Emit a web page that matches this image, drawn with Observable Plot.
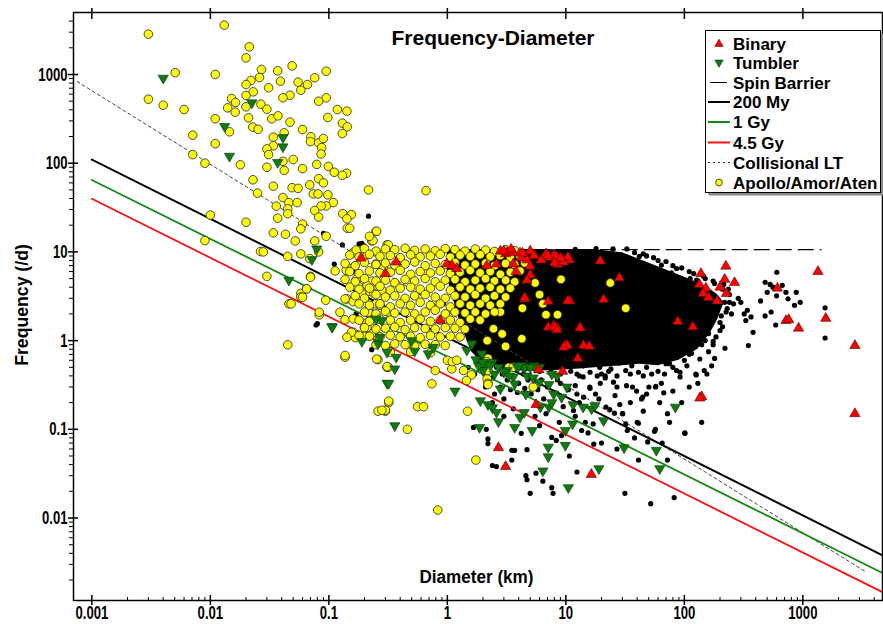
<!DOCTYPE html>
<html><head><meta charset="utf-8">
<script src="https://cdn.jsdelivr.net/npm/d3@7"></script>
<script src="https://cdn.jsdelivr.net/npm/@observablehq/plot@0.6"></script>
<style>html,body{margin:0;padding:0;background:#fff;}#chart{width:883px;height:624px;}</style>
</head><body><div id="chart"></div>
<script>
// ---------- scales / ticks ----------
const xDomain = [0.0007, 4700];
const yDomain = [0.001175, 5000];
const xMajor = [0.001, 0.01, 0.1, 1, 10, 100, 1000];
const xTickLabels = ["0.001", "0.01", "0.1", "1", "10", "100", "1000"];
const yMajor = [0.01, 0.1, 1, 10, 100, 1000];
const yTickLabels = ["0.01", "0.1", "1", "10", "100", "1000"];
const xMinor = [0.002,0.003,0.004,0.005,0.006,0.007,0.008,0.009,0.02,0.03,0.04,0.05,0.06,0.07,0.08,0.09,0.2,0.3,0.4,0.5,0.6,0.7,0.8,0.9,2,3,4,5,6,7,8,9,20,30,40,50,60,70,80,90,200,300,400,500,600,700,800,900,2000,3000,4000];
const yMinor = [0.002,0.003,0.004,0.005,0.006,0.007,0.008,0.009,0.02,0.03,0.04,0.05,0.06,0.07,0.08,0.09,0.2,0.3,0.4,0.5,0.6,0.7,0.8,0.9,2,3,4,5,6,7,8,9,20,30,40,50,60,70,80,90,200,300,400,500,600,700,800,900,2000,3000,4000];

// ---------- model lines ----------
const lineD = [0.001, 4700];
const age200My = [110, 0.0038];
const age1Gy = [64.7, 0.0024];
const age45Gy = [39.7, 0.00146];
const collD = [0.00075, 3350];
const collF = [834, 0.0025];
const spinD = [1.5, 1420];
const spinF = [10.6, 10.6];

// ---------- dense core of the main-belt population (outline) ----------
const coreD =   [1.0, 1.3, 1.6, 2.0, 3.0, 5.0, 8.0, 13, 20, 30, 42, 60, 90, 130, 165, 190, 215];
const coreTop = [10.6,10.6,10.6,10.6,10.6,10.6,10.6,10.6,10.4,9.8,8.2,6.8,5.5,4.5,3.8,3.3,2.7];
const coreBot = [5.0, 1.5, 0.75,0.55,0.47,0.45,0.46,0.48,0.5,0.52,0.54,0.52,0.6,0.8,1.2,1.7,2.6];

// ---------- scattered asteroids (black) ----------
const asteroidPts = [
[0.216,25.3],[0.13,12],[0.18,12.3],[0.19,12.5],[0.2,11.6],[0.09,16.2],[0.111,7.3],[0.16,5.95],[0.17,2.0],[0.08,1.55],[0.23,0.79],[0.078,1.5],[0.17,4.8],
[0.93,2.6],[1.13,2.38],[1.28,3.1],[1.02,1.69],[1.46,1.91],[1.77,1.69],[1.66,1.41],[2.15,1.09],[1.9,0.84],[1.56,1.09],[2.6,0.71],[3.2,1.0],[2.8,1.33],[3.4,1.69],[3.0,2.38],
[1.8,0.55],[2.0,0.48],[2.3,0.45],[2.6,0.5],[2.9,0.42],[3.2,0.36],[3.6,0.4],[4.0,0.33],[4.4,0.42],[4.8,0.36],[2.4,0.38],[2.8,0.3],[3.4,0.28],[3.9,0.26],[4.5,0.29],[5.1,0.25],[5.8,0.28],[6.5,0.22],[7.0,0.3],[8.0,0.26],[9.0,0.33],[10.5,0.28],[12,0.31],[8.5,0.36],[6.2,0.36],[3.0,0.22],[2.5,0.25],[2.1,0.3],[1.7,0.42],[1.5,0.5],
[5,0.55],[6.5,0.5],[8,0.56],[11,0.55],[14,0.52],[18,0.55],[24,0.48],[28,0.56],[36,0.52],[48,0.5],[70,0.55],[100,0.6],[115,0.72],[150,1.0],
[2.5,0.58],[3.5,0.52],[4.5,0.48],[6,0.45],[7.5,0.48],[9,0.42],[11,0.45],[13,0.4],[16,0.44],[20,0.42],[23,0.45],[27,0.4],[35,0.42],[45,0.4],[60,0.45],[80,0.5],[105,0.52],[135,0.62],[160,0.75],[175,0.9],[185,1.1],[200,1.3],[205,1.9],[225,2.1],[240,2.7],[235,3.8],[215,4.3],[175,4.7],[145,5.3],[110,6.0],[80,7.0],[60,8.0],[48,9.0],[38,9.8],
[6.8,0.15],[9.5,0.18],[13,0.2],[19,0.22],[26,0.24],[35,0.2],[48,0.25],[62,0.2],[80,0.27],[110,0.3],[130,0.33],[95,0.2],[75,0.12],[45,0.16],[12,0.14],[8.8,0.12],[6,0.11],[4.2,0.09],[3.0,0.14],[2.4,0.2],[3.6,0.17],[5.5,0.14],[20,0.07],[27,0.06],[38,0.08],[65,0.07],[140,0.12],
[1.66,0.105],[2.13,0.1],[2.2,0.078],[2.2,0.069],[2.4,0.039],[2.6,0.038],[3.5,0.058],[3.5,0.045],[3.7,0.058],[4.7,0.059],[4.6,0.03],[4.7,0.027],[5.6,0.032],[5.0,0.019],[6.4,0.026],[7.6,0.022],[7.8,0.019],[8.3,0.075],[7.6,0.081],[9.2,0.085],[10.7,0.05],[12.4,0.033],[13.6,0.097],[15.4,0.091],[17.2,0.068],[23.5,0.167],[25.7,0.152],[30.2,0.15],[32,0.115],[33,0.097],[41,0.117],[41,0.045],[49,0.072],[56,0.095],[67,0.258],[101,0.091],[31.5,0.019],[52,0.0145],[82,0.017],[72,0.045],[44.5,0.23],[50.2,0.3],[57.5,0.305],[36.5,0.3],[25.2,0.34],[21.5,0.4],[18.4,0.4],[15.9,0.3],[14.1,0.23],[12.4,0.25],[17.8,0.25],[28.5,0.19],[11.6,0.163],[14.6,0.12],[17,0.115],[19.3,0.5],[32,0.46],[41,0.44],[53,0.42],[68,0.42],[92,0.44],[125,0.42],[147,0.46],
[603,5.9],[481,4.55],[530,4.3],[560,4.0],[670,4.2],[720,3.5],[880,3.5],[950,2.7],[850,2.5],[750,2.96],[600,3.2],[500,3.5],[440,2.8],[480,1.9],[540,2.1],[590,1.5],[1540,2.34],[1540,1.07],[347,0.88],[380,1.24],[320,2.0],[330,1.68],[340,2.2],[365,1.85],[285,3.0],[300,2.7],[210,1.43],[220,0.82],[175,0.98],[180,0.63],[170,0.52],[155,0.42],[126,0.41],[92,0.39],[86,0.46],[64,0.33],[57,0.3],[43.5,0.22],[39.5,0.27],[32.5,0.31],[27,0.3],[21.5,0.38],[19.5,0.33],[16,0.29],[14,0.39],[12.4,0.42],[17.8,0.185],[21.8,0.178],[30,0.15],[40,0.12],[57,0.1],[72,0.15],[101,0.09],
[230,2.3],[250,2.0],[240,3.3],[200,1.6],[190,2.2],[260,2.6],[160,1.2],[140,0.9],[110,0.7],[75,0.55],[219,2.7],
[32.7,10.8],[41.7,8.9],[64,7.1],[78,5.8],[86,6.5],[112,5.0],[127,4.8],[45,9.5],[55,8.6],[70,7.8],[95,6.6],[120,5.7],[150,5.0],[180,4.4],[210,3.8],[25,10.8],[18,10.9],[12,10.7]
];

// ---------- Apollo / Amor / Aten (yellow) ----------
const apolloPts = [
[0.003,2850],[0.0131,3600],[0.0213,2050],[0.020,1540],[0.00505,1050],[0.011,1000],[0.027,1140],[0.037,1100],[0.049,1250],[0.095,1090],[0.026,925],[0.022,856],[0.020,771],[0.039,840],[0.055,819],[0.066,771],[0.076,918],[0.031,708],[0.058,665],[0.047,584],[0.041,546],[0.095,546],[0.082,500],[0.023,638],[0.020,580],[0.0151,536],[0.0163,484],[0.020,432],[0.0267,463],[0.030,406],[0.014,421],[0.0162,376],[0.003,527],[0.0040,451],[0.0060,403],[0.011,317],[0.021,325],[0.0228,255],[0.0253,241],[0.033,317],[0.0372,342],[0.047,290],[0.060,240],[0.098,328],[0.118,403],[0.142,386],[0.130,283],[0.143,257],[0.13,216],[0.0071,207],[0.011,166],[0.0071,125],[0.009,100],[0.0145,226],[0.0179,96],[0.0229,65],[0.025,46],[0.034,197],[0.034,157],[0.030,145],[0.031,125],[0.042,220],[0.041,105],[0.042,83],[0.030,90],[0.050,110],[0.060,87],[0.0705,199],[0.07,175],[0.082,170],[0.087,150],[0.086,127],[0.09,190],[0.079,97],[0.099,92],[0.111,79],[0.141,77],[0.13,73],[0.069,57],[0.082,67],[0.09,60],[0.034,55],[0.049,53],[0.055,52],[0.074,45],[0.081,45],[0.098,44],[0.041,41],[0.216,50],
[0.046,36],[0.054,36],[0.036,32.8],[0.045,30.6],[0.045,27],[0.109,36],[0.095,33],[0.086,33],[0.076,29.3],[0.082,24.7],[0.131,27],[0.155,26.3],[0.142,23.6],[0.143,18.5],[0.15,18.5],[0.037,24],[0.020,21.6],[0.01,26],[0.009,13.4],[0.0265,10.1],[0.028,10],[0.034,16.4],[0.043,15.8],[0.052,13.3],[0.060,20.6],[0.058,18.2],[0.076,13.3],[0.095,15],[0.058,9.5],[0.045,8.9],[0.082,10],[0.069,8.4],[0.16,9.8],[0.25,17],[0.23,13.3],[0.21,9.3],[0.25,7.3],[0.29,6.6],[0.31,12],[0.25,10],[0.145,6.6],[0.14,6.2],[0.113,6.1],[0.070,5.3],[0.030,5.3],[0.065,3.83],[0.058,3.4],[0.058,3.1],[0.094,2.85],[0.142,2.95],[0.16,2.75],[0.046,2.6],[0.048,2.6],[0.22,2.4],[0.25,2.6],[0.27,2.5],[0.24,1.97],[0.083,1.95],[0.137,1.72],[0.16,1.24],[0.167,1.08],[0.2,1.42],[0.21,1.6],[0.2,1.12],[0.24,1.16],[0.045,0.897],[0.137,0.65],[0.26,0.61],[0.31,0.5],[0.32,0.2],[0.26,0.16],[0.3,0.16],
[0.66,49],[0.253,17.1],[0.236,13.4],[0.318,12],[0.22,15],
[0.17,4.9],[0.2,4.7],[0.23,4.7],[0.21,4.2],[0.26,3.9],[0.22,3.6],[0.19,3.4],[0.24,3.4],[0.28,3.7],
[0.07,5.18],[0.065,3.83],[0.083,2.09],[0.06,3.08],[0.137,2.96],[0.124,2.09],[0.16,1.76],[0.155,1.24],[0.142,1.09],[0.137,0.68],[0.253,0.62],[0.318,0.5],[0.18,1.14],[0.23,1.19],[0.21,1.41],[0.245,1.68],[0.215,2.09],[0.318,2.09],
[0.31,0.51],[0.74,0.326],[0.32,0.208],[0.3,0.164],[0.28,0.164],[0.56,0.18],[0.63,0.18],[0.46,0.1],[1.48,0.16],[1.74,0.045],[0.83,0.0123],[0.79,0.46],[1.09,0.48],[1.37,0.46],[1.6,0.41],[1.45,0.355],[2.17,0.37],[2.2,0.33],[2.17,0.47],[3.3,0.5],[5.3,0.3],[1.0,0.6],[1.1,0.58],[1.2,0.6],
[23.7,4.47],[32,2.32],[9.1,4.9],[5.5,4.47],[6.0,3.3],[6.4,2.6],[4.3,2.32],[6.8,1.96],[8.5,1.96],[2.8,2.1],[4.25,1.05],[3.6,0.5],[2.45,1.36],[2.9,1.19],[3.1,0.86],[2.17,1.0],[2.2,0.63],[2.15,0.58],[2.2,0.46],[2.2,0.32],
[0.17,10.5],[0.2,10.9],[0.25,10.2],[0.3,10.8],[0.36,10.6],[0.44,11.0],[0.53,10.4],[0.65,10.8],[0.79,10.3],[0.96,10.9],[1.16,10.6],[1.41,10.2],[1.72,10.8],[2.1,10.5],[2.5,10.1],[3.1,10.6],[3.7,10.3],
[0.15,9.2],[0.18,8.8],[0.22,9.4],[0.27,8.9],[0.33,9.1],[0.4,8.6],[0.49,9.3],[0.59,8.8],[0.72,9.0],[0.87,9.4],[1.06,8.7],[1.28,9.2],[1.56,8.9],[1.89,9.3],[2.3,8.8],[2.8,9.1],[3.4,8.6],[4.1,9.0],
[0.137,7.4],[0.167,7.0],[0.2,7.6],[0.25,7.2],[0.3,7.5],[0.36,7.1],[0.44,7.3],[0.53,7.7],[0.65,7.0],[0.79,7.4],[0.96,7.2],[1.16,7.6],[1.41,7.1],[1.72,7.3],[2.1,7.5],[2.5,7.0],[3.1,7.4],[3.7,7.2],[4.5,7.5],
[0.15,6.0],[0.18,5.7],[0.22,6.1],[0.27,5.8],[0.33,5.9],[0.4,6.2],[0.49,5.6],[0.59,6.0],[0.72,5.8],[0.87,6.1],[1.06,5.7],[1.28,5.9],[1.56,6.2],[1.89,5.8],[2.3,6.0],[2.8,5.6],[3.4,5.9],[4.1,6.1],
[0.137,4.9],[0.167,4.6],[0.2,5.0],[0.25,4.7],[0.3,4.8],[0.36,4.5],[0.44,4.9],[0.53,4.7],[0.65,5.0],[0.79,4.6],[0.96,4.8],[1.16,4.9],[1.41,4.6],[1.72,4.8],[2.1,5.0],[2.5,4.7],[3.1,4.8],[3.7,4.6],
[0.15,4.0],[0.18,3.8],[0.22,3.9],[0.27,4.1],[0.33,3.7],[0.4,3.9],[0.49,4.0],[0.59,3.8],[0.72,3.9],[0.87,4.1],[1.06,3.7],[1.28,4.0],[1.56,3.8],[1.89,3.9],[2.3,4.0],[2.8,3.8],[3.4,3.9],
[0.167,3.2],[0.2,3.0],[0.25,3.3],[0.3,3.1],[0.36,3.2],[0.44,3.0],[0.53,3.2],[0.65,3.3],[0.79,3.1],[0.96,3.0],[1.16,3.2],[1.41,3.1],[1.72,3.3],[2.1,3.0],[2.5,3.2],[3.1,3.1],
[0.18,2.6],[0.22,2.5],[0.27,2.6],[0.33,2.4],[0.4,2.6],[0.49,2.5],[0.59,2.7],[0.72,2.5],[0.87,2.6],[1.06,2.4],[1.28,2.6],[1.56,2.5],[1.89,2.6],[2.3,2.5],[2.8,2.6],
[0.2,2.1],[0.25,2.0],[0.3,2.15],[0.36,2.05],[0.44,2.1],[0.53,2.0],[0.65,2.1],[0.79,2.2],[0.96,2.0],[1.16,2.1],[1.41,2.05],[1.72,2.1],[2.1,2.0],[2.5,2.1],
[0.18,1.7],[0.22,1.65],[0.27,1.75],[0.33,1.7],[0.4,1.6],[0.49,1.7],[0.59,1.75],[0.72,1.65],[0.87,1.7],[1.06,1.7],[1.28,1.6],[1.56,1.75],[1.89,1.7],
[0.2,1.4],[0.25,1.35],[0.3,1.38],[0.36,1.42],[0.44,1.33],[0.53,1.4],[0.65,1.37],[0.79,1.35],[0.96,1.4],[1.16,1.38],[1.41,1.35],
[0.22,1.12],[0.27,1.1],[0.33,1.15],[0.4,1.1],[0.49,1.12],[0.59,1.08],[0.72,1.14],[0.87,1.1],[1.06,1.12],[1.28,1.1],
[0.25,0.9],[0.3,0.88],[0.36,0.92],[0.44,0.9],[0.53,0.87],[0.65,0.91],[0.79,0.9],[0.96,0.88],
[0.33,0.74],[0.49,0.75],[0.72,0.73]
];

// ---------- Tumblers (green, pointing down) ----------
const tumblerPts = [
[0.004,910],[0.0224,480],[0.0132,260],[0.0145,120],[0.041,153],[0.041,195],[0.037,102],
[0.079,10.8],[0.072,8.2],[0.046,4.8],[0.106,1.44],[0.19,0.98],[0.26,0.92],[0.31,0.74],[0.31,0.33],[0.28,1.68],
[0.107,1.42],[0.37,0.65],[0.53,0.76],[0.69,0.71],[0.76,0.84],[0.5,1.0],[0.25,1.75],[0.27,1.09],[1.61,0.92],[1.95,0.71],[1.46,0.78],[2.1,0.55],[2.5,0.42],[3.2,0.46],[3.9,0.5],[4.3,0.52],[5.4,0.52],[4.7,0.4],[3.6,0.39],[8.4,0.4],[6.0,0.5],[1.74,0.61],[2.4,0.57],[2.7,0.5],[2.0,0.46],
[0.36,0.48],[0.32,0.33],[0.36,0.11],[1.16,0.27],[1.83,0.52],[1.9,0.21],[2.2,0.19],[2.4,0.175],[2.6,0.155],[2.7,0.122],[1.87,0.105],[3.7,0.105],[4.1,0.137],[4.45,0.155],[5.2,0.097],[7.1,0.063],[7.1,0.049],[6.4,0.034],[9.9,0.097],[9.9,0.066],[10.5,0.022],[11.4,0.115],[20.8,0.125],[31,0.062],[58,0.058],[62,0.036],[84,0.178],[19,0.036],[2.8,0.285],[3.7,0.325],[4.6,0.25],[6.1,0.178],[7.2,0.178],[7.6,0.2],[9.2,0.23],[11.5,0.19],[14,0.178],[16.5,0.17],[17.6,0.185],[5.5,0.5],[5.3,0.38],[4.5,0.5],[6.0,0.34],[7.2,0.32],[7.6,0.42],[7.9,0.25],[10.2,0.3],[2.0,0.57],[2.3,0.53],[3.0,0.44],[3.3,0.4],[4.0,0.52],[5.0,0.5]
];

// ---------- Binaries (red, pointing up) ----------
const binaryPts = [
[0.187,8.5],[0.3,5.7],
[0.37,7.7],[0.99,7.3],[1.1,7.0],[1.2,6.5],[2.8,10.2],[3.1,9.5],[3.2,9.9],[3.6,9.9],[4.1,9.7],[5.0,10.2],[5.4,9.1],[4.7,8.1],[4.2,8.6],[5.0,6.9],[6.2,8.1],[6.8,9.5],[7.2,8.7],[7.9,9.1],[8.7,8.4],[10.7,8.1],[8.5,7.2],[2.15,7.0],[2.6,7.3],[3.6,7.3],[3.8,6.0],[5.0,5.5],[4.7,4.8],[4.5,2.95],[7.1,1.41],[8.4,1.41],[7.9,1.46],[13.2,1.41],[10.8,2.8],[0.87,1.69],
[224,6.9],[138,5.7],[219,4.9],[265,4.5],[134,4.3],[152,3.9],[144,3.4],[160,3.05],[190,2.8],[200,4.0],[226,3.4],[1340,6.0],[610,3.9],[720,1.68],[760,1.72],[920,1.38],[1560,1.78],[2750,0.88],[2750,0.15],[140,0.233],[88,1.64],[118,1.43],[19.5,7.9],[28.3,5.1],[20.8,2.9],[10.4,2.8],[4.5,3.05],[7.1,2.75],[13.2,1.39],[14.1,0.88],[15.8,0.86],[12.6,0.63],[8.1,1.41],[8.4,1.32],[9.9,0.88],[10.3,0.88],[9.6,0.84],[3.0,10.2],[3.45,10.7],[4.3,9.7],[7,9.1],[8.3,8.9],[10.4,8.7],[9.6,7.7],[9.1,8.5],[8.0,7.5],
[2.7,0.062],[3.1,0.038],[5.9,0.47],[9.4,0.45],[5.6,0.19],[16.4,0.031],[135,0.225]
];

// ---------- legend ----------
const legendLabels = ["Binary", "Tumbler", "Spin Barrier", "200 My", "1 Gy", "4.5 Gy", "Collisional LT", "Apollo/Amor/Aten"];

// ---------- build ----------
const rows = pts => pts.map(([d, f]) => ({d, f}));
const pairRows = (ds, fs) => ds.map((d, i) => ({d, f: fs[i]}));
const coreRows = coreD.map((d, i) => ({d, lo: coreBot[i], hi: coreTop[i]}));
const FONT = "'Liberation Sans', Arial, Helvetica, sans-serif";
const GREEN_FILL = "#0f7a0f", GREEN_LINE = "#118a11";
const S3 = Math.sqrt(3);
const triangleDown = {draw(ctx, size) {
  const y = -Math.sqrt(size / (S3 * 3));
  ctx.moveTo(0, -y * 2); ctx.lineTo(-S3 * y, y); ctx.lineTo(S3 * y, y); ctx.closePath();
}};
const blank = () => "";

const chart = Plot.plot({
  width: 883, height: 624,
  marginLeft: 73, marginRight: 1, marginTop: 12, marginBottom: 24,
  style: {fontFamily: FONT, fontSize: "13px", fontWeight: "bold", color: "black", background: "white"},
  x: {type: "log", domain: xDomain, axis: null},
  y: {type: "log", domain: yDomain, axis: null},
  marks: [
    Plot.areaY(coreRows, {x: "d", y1: "lo", y2: "hi", fill: "black"}),
    Plot.dot(rows(asteroidPts), {x: "d", y: "f", r: 2.6, fill: "black"}),
    Plot.line(pairRows(spinD, spinF), {x: "d", y: "f", stroke: "black", strokeWidth: 1.2, strokeDasharray: "15,7"}),
    Plot.line(pairRows(collD, collF), {x: "d", y: "f", stroke: "#444", strokeWidth: 1, strokeDasharray: "3,3"}),
    Plot.line(pairRows(lineD, age200My), {x: "d", y: "f", stroke: "black", strokeWidth: 2}),
    Plot.line(pairRows(lineD, age1Gy), {x: "d", y: "f", stroke: GREEN_LINE, strokeWidth: 1.8}),
    Plot.line(pairRows(lineD, age45Gy), {x: "d", y: "f", stroke: "#ff1010", strokeWidth: 1.8}),
    Plot.dot(rows(apolloPts), {x: "d", y: "f", r: 4.3, fill: "#ffff00", stroke: "#222", strokeWidth: 0.8}),
    Plot.dot(rows(tumblerPts), {x: "d", y: "f", r: 3.8, symbol: triangleDown, fill: GREEN_FILL, stroke: "#063806", strokeWidth: 0.6}),
    Plot.dot(rows(binaryPts), {x: "d", y: "f", r: 3.8, symbol: "triangle", fill: "#ff0000", stroke: "#5a0000", strokeWidth: 0.6}),
    Plot.frame({stroke: "black", strokeWidth: 1.5}),
    Plot.axisX(xMajor, {anchor: "bottom", tickSize: 10, dy: -5, strokeWidth: 1.5, tickFormat: blank, label: null}),
    Plot.axisX(xMinor, {anchor: "bottom", tickSize: 3, dy: -3, tickFormat: blank, label: null}),
    Plot.axisX(xMajor, {anchor: "bottom", tickSize: 0, tickPadding: 5, tickFormat: d => xTickLabels[xMajor.indexOf(d)], label: null}),
    Plot.axisX(xMajor, {anchor: "top", tickSize: 11, dy: 6, strokeWidth: 1.5, tickFormat: blank, label: null}),
    Plot.axisY(yMajor, {anchor: "left", tickSize: 10, dx: 5, strokeWidth: 1.5, tickFormat: blank, label: null}),
    Plot.axisY(yMinor, {anchor: "left", tickSize: 4, tickFormat: blank, label: null}),
    Plot.axisY(yMajor, {anchor: "left", tickSize: 0, tickPadding: 6, tickFormat: d => yTickLabels[yMajor.indexOf(d)], label: null})
  ]
});
document.getElementById("chart").appendChild(chart);

// ---------- typography of tick labels: tall, narrow bold digits as in the original ----------
const svg = d3.select(chart);
svg.selectAll("text").style("font-family", FONT).style("font-weight", "bold").attr("fill", "black");
const isNum = v => v != null && /^\s*-?\d*\.?\d+(e[-+]?\d+)?\s*$/i.test(v);
svg.selectAll('g[aria-label$="tick label"] text').each(function () {
  const t = d3.select(this);
  if (!t.text()) return;
  let tx = 0, ty = 0;
  const x = t.attr("x"), y = t.attr("y");
  if (isNum(x)) { tx = +x; t.attr("x", null); }
  if (isNum(y)) { ty = +y; t.attr("y", null); }
  const tr = t.attr("transform") || "";
  t.attr("transform", `${tr} translate(${tx},${ty}) scale(0.69,1)`).style("font-size", "19px");
});

// ---------- titles and legend ----------
const txt = (x, y, s, size, anchor) => svg.append("text").attr("x", x).attr("y", y).attr("text-anchor", anchor)
  .style("font-family", FONT).style("font-weight", "bold").style("font-size", size + "px").attr("fill", "black").text(s);
txt(493, 45, "Frequency-Diameter", 21, "middle");
txt(0, 0, "Diameter (km)", 19, "middle").attr("transform", "translate(476.5,583) scale(0.9,1)");
txt(0, 0, "Frequency (/d)", 19, "middle").attr("transform", "translate(28,305) rotate(-90) scale(0.93,1)");

const lg = svg.append("g");
lg.append("rect").attr("x", 708.5).attr("y", 33.5).attr("width", 175).attr("height", 162).attr("fill", "#8a8a8a");
lg.append("rect").attr("x", 705.5).attr("y", 30.5).attr("width", 175).attr("height", 162)
  .attr("fill", "white").attr("stroke", "black").attr("stroke-width", 1);
const rowY = [43.5, 63, 82.5, 102, 122, 142.5, 162.5, 182.5];
lg.append("path").attr("transform", `translate(719,${rowY[0] + 0.5})`)
  .attr("d", d3.symbol(d3.symbolTriangle, 30)()).attr("fill", "#ff0000").attr("stroke", "#5a0000").attr("stroke-width", 0.6);
lg.append("path").attr("transform", `translate(719,${rowY[1] - 0.5})`)
  .attr("d", d3.symbol(triangleDown, 30)()).attr("fill", GREEN_FILL).attr("stroke", "#063806").attr("stroke-width", 0.6);
lg.append("line").attr("x1", 710).attr("x2", 727).attr("y1", rowY[2]).attr("y2", rowY[2]).attr("stroke", "black").attr("stroke-width", 1);
lg.append("line").attr("x1", 708).attr("x2", 730).attr("y1", rowY[3]).attr("y2", rowY[3]).attr("stroke", "black").attr("stroke-width", 2);
lg.append("line").attr("x1", 708).attr("x2", 730).attr("y1", rowY[4]).attr("y2", rowY[4]).attr("stroke", GREEN_LINE).attr("stroke-width", 2);
lg.append("line").attr("x1", 708).attr("x2", 730).attr("y1", rowY[5]).attr("y2", rowY[5]).attr("stroke", "#ff1010").attr("stroke-width", 2);
lg.append("line").attr("x1", 708).attr("x2", 730).attr("y1", rowY[6]).attr("y2", rowY[6]).attr("stroke", "#333").attr("stroke-width", 1).attr("stroke-dasharray", "2,3");
lg.append("circle").attr("cx", 719).attr("cy", rowY[7]).attr("r", 3.4).attr("fill", "#ffff00").attr("stroke", "#222").attr("stroke-width", 0.8);
legendLabels.forEach((t, i) => {
  lg.append("text").attr("x", 733).attr("y", rowY[i] + 6).attr("text-anchor", "start")
    .style("font-family", FONT).style("font-weight", "bold").style("font-size", "17px").attr("fill", "black").text(t);
});
</script>
</body></html>
